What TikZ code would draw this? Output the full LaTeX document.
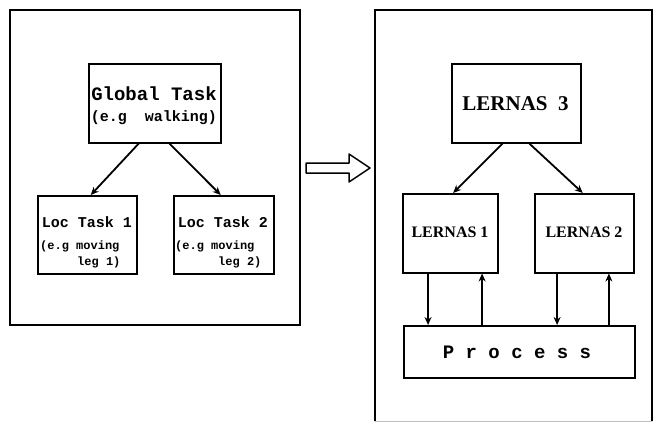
\documentclass[tikz,border=0pt]{standalone}
\usepackage{fontspec}
\setmainfont{Liberation Serif}
\newfontfamily\monof{Liberation Mono}
\usetikzlibrary{calc,arrows.meta}
\begin{document}
\begin{tikzpicture}[x=1pt,y=-1pt,
  outer/.style={draw,line width=1.6pt},
  boxn/.style={draw,line width=1.5pt,rectangle,inner sep=0pt,anchor=north west},
  conn/.style={line width=1.8pt,-{Stealth[length=8pt,width=7pt]}},
  mtxt/.style={inner sep=0pt},
  stxt/.style={inner sep=0pt}]
\useasboundingbox (0,0) rectangle (655,423);
% outer frames
\draw[outer] (10,10) rectangle (300,325);
\draw[outer] (375,421) -- (375,10) -- (652,10) -- (652,421);
\draw[line width=0.4pt,gray!50] (375,421) -- (652,421);
% hollow arrow
\draw[line width=1.5pt,line join=round] (306,163) -- (349,163) -- (349,154) -- (370,168) -- (349,182) -- (349,173) -- (306,173) -- cycle;
% left side boxes
\node[boxn,minimum width=132pt,minimum height=79pt] (gt) at (88,63) {};
\node[boxn,minimum width=99pt,minimum height=78pt] (lt1) at (37,195) {};
\node[boxn,minimum width=100pt,minimum height=78pt] (lt2) at (173,195) {};
\node[mtxt,font=\monof\bfseries\fontsize{19}{19}\selectfont] (gtt) at (154,94) {Global Task};
\node[mtxt,font=\monof\bfseries\fontsize{15}{15}\selectfont] (gts) at (154,118) {(e.g\ \ walking)};
\node[mtxt,font=\monof\bfseries\fontsize{15}{15}\selectfont] (l1t) at (87,222) {Loc Task 1};
\node[mtxt,font=\monof\bfseries\fontsize{12}{12}\selectfont,anchor=west] (l1s) at (40,246) {(e.g moving};
\node[mtxt,font=\monof\bfseries\fontsize{12}{12}\selectfont,anchor=west] (l1u) at (77,262) {leg 1)};
\node[mtxt,font=\monof\bfseries\fontsize{15}{15}\selectfont] (l2t) at (223,222) {Loc Task 2};
\node[mtxt,font=\monof\bfseries\fontsize{12}{12}\selectfont,anchor=west] (l2s) at (175,246) {(e.g moving};
\node[mtxt,font=\monof\bfseries\fontsize{12}{12}\selectfont,anchor=west] (l2u) at (218,262) {leg 2)};
\draw[conn] ($(gt.south west)!0.38!(gt.south east)$) -- ($(lt1.north west)!0.535!(lt1.north east)$);
\draw[conn] ($(gt.south west)!0.61!(gt.south east)$) -- ($(lt2.north west)!0.47!(lt2.north east)$);
% right side boxes
\node[boxn,minimum width=129pt,minimum height=79pt] (l3) at (451,63) {};
\node[boxn,minimum width=95pt,minimum height=79pt] (l1) at (402,193) {};
\node[boxn,minimum width=99pt,minimum height=79pt] (l2) at (534,193) {};
\node[boxn,minimum width=231pt,minimum height=52pt] (pr) at (403,325) {};
\node[stxt,font=\bfseries\fontsize{21}{21}\selectfont] (l3t) at (515.5,104) {LERNAS\ \ 3};
\node[stxt,font=\bfseries\fontsize{16}{16}\selectfont] (l1tt) at (450,232) {LERNAS 1};
\node[stxt,font=\bfseries\fontsize{16}{16}\selectfont] (l2tt) at (584,232) {LERNAS 2};
\node[mtxt,font=\monof\bfseries\fontsize{19}{19}\selectfont] (prt) at (517,352) {P r o c e s s};
\draw[conn] ($(l3.south west)!0.395!(l3.south east)$) -- ($(l1.north west)!0.53!(l1.north east)$);
\draw[conn] ($(l3.south west)!0.6!(l3.south east)$) -- ($(l2.north west)!0.485!(l2.north east)$);
\draw[conn] ($(l1.south west)!0.27!(l1.south east)$) coordinate (a1) -- (a1 |- pr.north);
\draw[conn] ($(l1.south west)!0.83!(l1.south east)$) coordinate (b1) (b1 |- pr.north) -- (b1);
\draw[conn] ($(l2.south west)!0.23!(l2.south east)$) coordinate (a2) -- (a2 |- pr.north);
\draw[conn] ($(l2.south west)!0.745!(l2.south east)$) coordinate (b2) (b2 |- pr.north) -- (b2);
\end{tikzpicture}
\end{document}
